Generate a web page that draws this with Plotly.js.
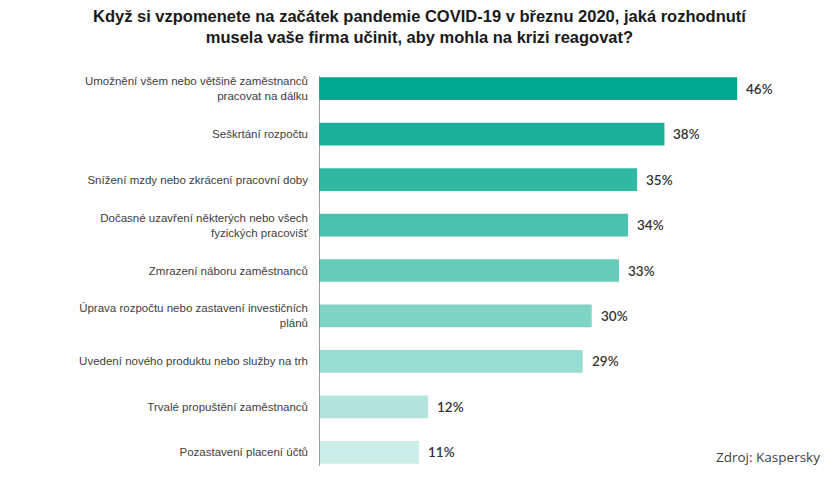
<!DOCTYPE html>
<html>
<head>
<meta charset="utf-8">
<script src="https://cdn.plot.ly/plotly-3.0.1.min.js"></script>
<style>html,body{margin:0;padding:0;background:#fff;}#chart{width:840px;height:480px;}</style>
</head>
<body>
<div id="chart"></div>
<script>
const categories = [
  "Umožnění všem nebo většině zaměstnanců<br>pracovat na dálku",
  "Seškrtání rozpočtu",
  "Snížení mzdy nebo zkrácení pracovní doby",
  "Dočasné uzavření některých nebo všech<br>fyzických pracovišť",
  "Zmrazení náboru zaměstnanců",
  "Úprava rozpočtu nebo zastavení investičních<br>plánů",
  "Uvedení nového produktu nebo služby na trh",
  "Trvalé propuštění zaměstnanců",
  "Pozastavení placení účtů"
];
const values = [46, 38, 35, 34, 33, 30, 29, 12, 11];
const barColors = ["#00a88e", "#1ab099", "#33b9a3", "#4dc2ae", "#66cbb9", "#80d4c5", "#99dcd1", "#b3e5dc", "#cceee8"];
const titleText = "Když si vzpomenete na začátek pandemie COVID-19 v březnu 2020, jaká rozhodnutí<br>musela vaše firma učinit, aby mohla na krizi reagovat?";
const sourceText = "Zdroj: Kaspersky";

const trace = {
  type: "bar",
  orientation: "h",
  x: values,
  y: categories,
  marker: { color: barColors, line: { width: 0 } },
  hoverinfo: "none"
};

const valueAnnotations = values.map((v, i) => ({
  x: v, y: categories[i], xref: "x", yref: "y",
  text: v + "%", showarrow: false, xanchor: "left", xshift: 7,
  font: { family: "Lato, 'Noto Sans', sans-serif", size: 13.5, color: "#333333", weight: 600 }
}));

const layout = {
  width: 840, height: 480,
  paper_bgcolor: "#ffffff", plot_bgcolor: "#ffffff",
  margin: { l: 319, r: 21, t: 66, b: 4.5 },
  showlegend: false,
  bargap: 0.5,
  xaxis: {
    range: [0, 55], visible: false, fixedrange: true
  },
  yaxis: {
    type: "category", autorange: "reversed",
    showline: false, showgrid: false, zeroline: false, ticks: "",
    ticklabelstandoff: 10,
    tickfont: { family: "'Liberation Sans', Arial, sans-serif", size: 11.5, color: "#404040" }
  },
  shapes: [{
    type: "line", xref: "x", yref: "y",
    x0: 0, x1: 0, y0: -0.28, y1: 8.3,
    line: { color: "#7f7f7f", width: 1.5 }
  }],
  annotations: valueAnnotations.concat([{
    xref: "paper", yref: "paper", x: 0.202, y: 1.149,
    xanchor: "center", yanchor: "top", showarrow: false,
    align: "center",
    text: "<b>" + titleText + "</b>",
    font: { family: "'Liberation Sans', Arial, sans-serif", size: 16.5, color: "#1a1a1a" }
  }, {
    xref: "paper", yref: "paper", x: 1.006, y: 0.045,
    xanchor: "right", yanchor: "middle", showarrow: false,
    text: sourceText,
    font: { family: "'Open Sans', 'Noto Sans', sans-serif", size: 13.5, color: "#404040" }
  }])
};

Plotly.newPlot("chart", [trace], layout, { staticPlot: true, displayModeBar: false });
</script>
</body>
</html>
